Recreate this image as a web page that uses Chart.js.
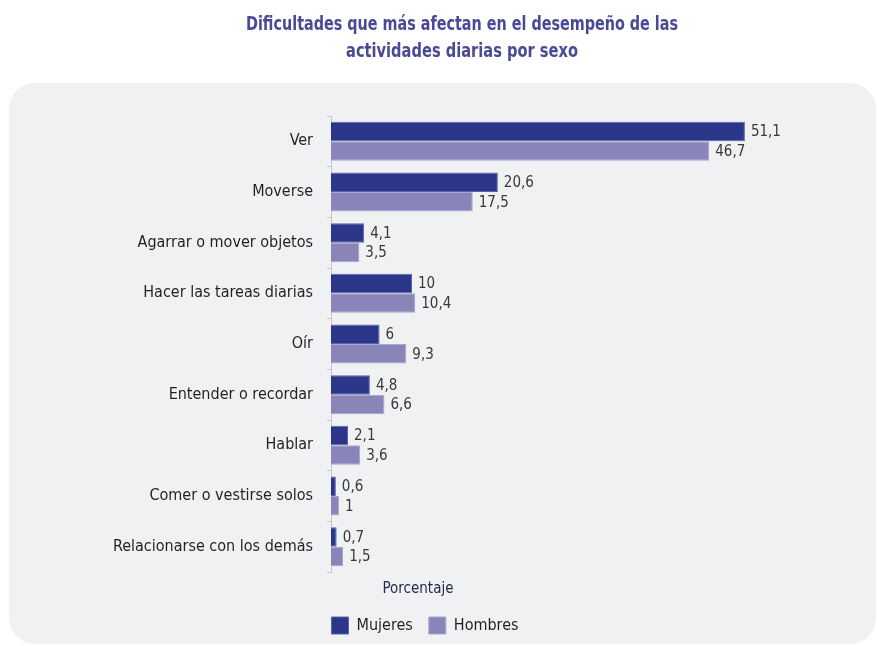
<!DOCTYPE html>
<html>
<head>
<meta charset="utf-8">
<script src="https://cdn.jsdelivr.net/npm/chart.js@4.4.1/dist/chart.umd.min.js"></script>
<style>
  html, body { margin: 0; padding: 0; background: #fff; }
  #wrap { width: 877px; height: 646px; }
</style>
</head>
<body>
<div id="wrap"><canvas id="myChart" width="877" height="646"></canvas></div>
<script>
const categories = ['Ver', 'Moverse', 'Agarrar o mover objetos', 'Hacer las tareas diarias', 'Oír',
  'Entender o recordar', 'Hablar', 'Comer o vestirse solos', 'Relacionarse con los demás'];
const mujeres = [51.1, 20.6, 4.1, 10, 6, 4.8, 2.1, 0.6, 0.7];
const hombres = [46.7, 17.5, 3.5, 10.4, 9.3, 6.6, 3.6, 1, 1.5];
const seriesNames = ['Mujeres', 'Hombres'];
const titleLines = ['Dificultades que más afectan en el desempeño de las', 'actividades diarias por sexo'];

const FONT = "'Liberation Sans Narrow', 'DejaVu Sans Condensed', 'Roboto', sans-serif";

// rounded grey panel behind the plot
const panelBg = {
  id: 'panelBg',
  beforeDraw(chart) {
    const ctx = chart.ctx;
    ctx.save();
    ctx.fillStyle = '#f0f1f3';
    ctx.beginPath();
    ctx.roundRect(9, 83, 867, 561, 26);
    ctx.fill();
    ctx.restore();
  }
};

// title (condensed to fit), value labels after each bar, axis caption
const textLayer = {
  id: 'textLayer',
  afterDatasetsDraw(chart) {
    const ctx = chart.ctx;
    ctx.save();
    ctx.font = 'bold 20px ' + FONT;
    ctx.fillStyle = '#4a4996';
    ctx.textAlign = 'center';
    ctx.textBaseline = 'middle';
    ctx.fillText(titleLines[0], 462, 25, 432);
    ctx.fillText(titleLines[1], 462, 52, 232);

    ctx.font = '15px ' + FONT;
    ctx.fillStyle = '#3b3838';
    ctx.textAlign = 'left';
    chart.data.datasets.forEach((ds, i) => {
      chart.getDatasetMeta(i).data.forEach((bar, j) => {
        const txt = String(ds.data[j]).replace('.', ',');
        ctx.fillText(txt, bar.x + 6, bar.y + 1);
      });
    });
    ctx.fillStyle = '#262a4a';
    ctx.textAlign = 'center';
    ctx.fillText('Porcentaje', 418, chart.chartArea.bottom + 17);
    ctx.restore();
  }
};

const ctx = document.getElementById('myChart');
const myChart = new Chart(ctx, {
  type: 'bar',
  data: {
    labels: categories,
    datasets: [{
      label: seriesNames[0],
      data: mujeres,
      backgroundColor: '#2b3688',
      borderColor: '#5a63a8',
      borderWidth: 1,
      categoryPercentage: 0.77,
      barPercentage: 1.0
    }, {
      label: seriesNames[1],
      data: hombres,
      backgroundColor: '#8a85b9',
      borderColor: '#a9a5cf',
      borderWidth: 1,
      categoryPercentage: 0.77,
      barPercentage: 1.0
    }]
  },
  options: {
    indexAxis: 'y',
    responsive: false,
    animation: false,
    layout: { padding: { left: 33, right: 60, top: 116, bottom: 2 } },
    scales: {
      x: {
        min: 0,
        max: 60,
        ticks: { display: false },
        grid: { display: false },
        border: { display: false },
        afterFit: (s) => { s.height = 29; }
      },
      y: {
        grid: { drawOnChartArea: false, tickLength: 4, color: '#c9c9c9', offset: true },
        border: { display: true, color: '#c9c9c9' },
        ticks: { color: '#231f20', font: { family: FONT, size: 16 }, padding: 14 },
        afterFit: (s) => { s.width = 298; }
      }
    },
    plugins: {
      title: { display: false },
      legend: {
        position: 'bottom',
        labels: {
          color: '#231f20',
          font: { family: FONT, size: 16 },
          boxWidth: 17,
          boxHeight: 17,
          padding: 16
        }
      },
      tooltip: { enabled: false }
    }
  },
  plugins: [panelBg, textLayer]
});
</script>
</body>
</html>
